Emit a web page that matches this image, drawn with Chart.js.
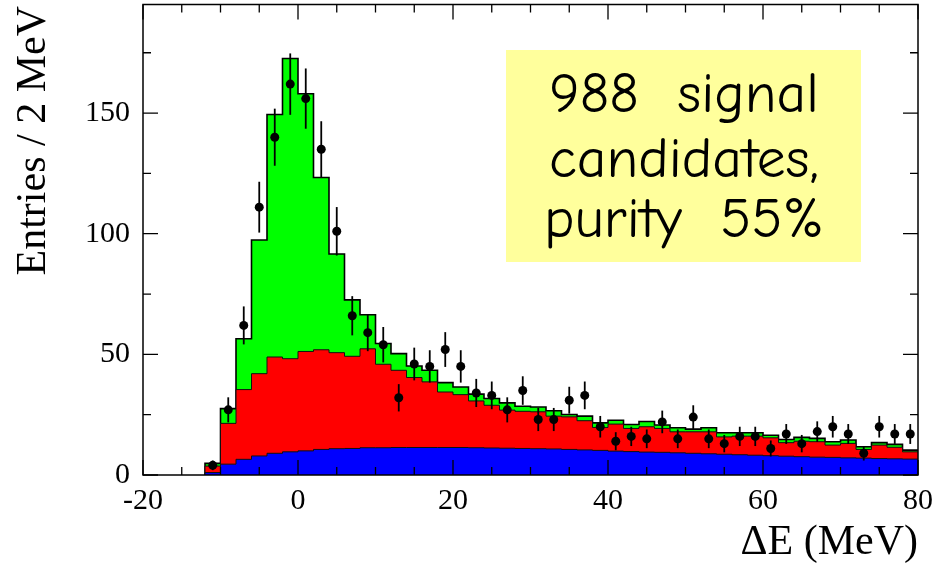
<!DOCTYPE html>
<html>
<head>
<meta charset="utf-8">
<script src="https://cdn.jsdelivr.net/npm/chart.js@4"></script>
<style>
  html, body { margin: 0; padding: 0; background: #fff; }
</style>
</head>
<body>
<canvas id="myChart" width="939" height="568"></canvas>
<script>
'use strict'

// lower edge of each 2 MeV bin
const binLow = [-12, -10, -8, -6, -4, -2, 0, 2, 4, 6, 8, 10, 12, 14, 16, 18, 20, 22, 24, 26, 28, 30, 32,
  34, 36, 38, 40, 42, 44, 46, 48, 50, 52, 54, 56, 58, 60, 62, 64, 66, 68, 70, 72, 74, 76, 78];
const binWidth = 2;

// observed entries (black points)
const dataCounts = [4, 27, 62, 111, 140, 162, 156, 135, 101, 66, 59, 54, 32, 46, 45, 52, 45, 34, 33, 27,
  35, 23, 23, 31, 33, 20, 14, 16, 15, 22, 15, 24, 15, 13, 16, 16, 11, 17, 13, 18, 20, 17, 9, 20, 17, 17];

// stacked MC, read as the top of each colour
const totalTop = [4.8, 27.5, 56.5, 97.4, 149.4, 172.6, 158, 123.3, 91.6, 72.6, 66.4, 54.5, 50.3, 45.2, 43.4,
  38.3, 36.5, 33.5, 31.7, 29.9, 28.5, 28.2, 26.6, 25.1, 24.4, 21.6, 22.7, 20.9, 22.2, 20.7, 19.6, 19.0, 19.6,
  17.5, 17.5, 17.5, 16.5, 14.7, 15.6, 15.2, 13.8, 14.5, 11.7, 13.4, 12.7, 10.3];
const bkgTop = [3.7, 21.4, 35.4, 42.0, 48.9, 48.2, 51.2, 51.9, 50.7, 49.2, 52.3, 45.9, 43.4, 40.4, 38.6,
  34.4, 33.3, 30.7, 28.9, 26.9, 26.4, 26.2, 24.4, 24.1, 22.5, 19.7, 21.1, 19.3, 20.0, 19.3, 17.9, 17.9, 17.9,
  15.8, 16.1, 16.1, 15.4, 13.4, 14.0, 13.8, 12.4, 13.1, 10.6, 12.4, 11.5, 9.6];
const combTop = [1.0, 4.5, 6.5, 7.9, 9.0, 9.6, 10.0, 10.6, 10.9, 11.0, 11.3, 11.3, 11.4, 11.4, 11.4,
  11.4, 11.4, 11.3, 11.2, 11.1, 11.0, 10.9, 10.8, 10.6, 10.4, 10.2, 9.9, 9.7, 9.5, 9.4, 9.2, 9.0, 8.8,
  8.6, 8.4, 8.2, 8.0, 7.8, 7.6, 7.4, 7.3, 7.1, 7.0, 6.8, 6.7, 6.6];

const boxLines = ['988  signal', 'candidates,', 'purity  55%'];

const serif = '"Liberation Serif", "Times New Roman", serif';

// histogram outline as stepped points on bin edges
function stepPoints(arr) {
  const pts = [{ x: binLow[0], y: 0 }];
  binLow.forEach((x, i) => pts.push({ x: x, y: arr[i] }));
  pts.push({ x: binLow[binLow.length - 1] + binWidth, y: arr[arr.length - 1] });
  return pts;
}

const histSet = (arr, fillColor, lineColor, lw) => ({
  data: stepPoints(arr),
  stepped: true,
  fill: 'origin',
  backgroundColor: fillColor,
  borderColor: lineColor,
  borderWidth: lw,
  pointRadius: 0,
});

// inward ticks, frame, error bars, axis titles and the text box
const decorPlugin = {
  id: 'decor',
  afterDatasetsDraw(chart) {
    const ctx = chart.ctx;
    const xs = chart.scales.x, ys = chart.scales.y;
    ctx.save();
    ctx.strokeStyle = '#000';
    ctx.lineWidth = 1.8;
    dataCounts.forEach((n, i) => {
      const px = xs.getPixelForValue(binLow[i] + binWidth / 2);
      const e = Math.sqrt(n);
      ctx.beginPath();
      ctx.moveTo(px, ys.getPixelForValue(n - e));
      ctx.lineTo(px, ys.getPixelForValue(n + e));
      ctx.stroke();
    });
    ctx.restore();
  },
  afterDraw(chart) {
    const ctx = chart.ctx;
    const a = chart.chartArea;
    const xs = chart.scales.x, ys = chart.scales.y;
    ctx.save();
    ctx.strokeStyle = '#000';
    ctx.lineWidth = 1.5;
    ctx.strokeRect(a.left, a.top, a.right - a.left, a.bottom - a.top);

    ctx.lineWidth = 1.3;
    ctx.beginPath();
    xs.ticks.forEach(t => {
      if (t.value % 5 !== 0) return;
      const px = xs.getPixelForValue(t.value);
      const len = t.value % 20 === 0 ? 15 : 8;
      ctx.moveTo(px, a.bottom); ctx.lineTo(px, a.bottom - len);
      ctx.moveTo(px, a.top); ctx.lineTo(px, a.top + len);
    });
    ys.ticks.forEach(t => {
      if (t.value % 25 !== 0) return;
      const py = ys.getPixelForValue(t.value);
      const len = t.value % 50 === 0 ? 15 : 8;
      ctx.moveTo(a.left, py); ctx.lineTo(a.left + len, py);
      ctx.moveTo(a.right, py); ctx.lineTo(a.right - len, py);
    });
    ctx.stroke();

    // axis titles
    ctx.fillStyle = '#000';
    ctx.font = '42px ' + serif;
    ctx.textAlign = 'right';
    ctx.textBaseline = 'alphabetic';
    ctx.fillText('\u0394E (MeV)', a.right, 554);
    ctx.translate(45, 6);
    ctx.rotate(-Math.PI / 2);
    ctx.fillText('Entries / 2 MeV', 0, 0);
    ctx.restore();

    // yellow text box
    ctx.save();
    ctx.fillStyle = '#ffff9c';
    ctx.fillRect(506, 50, 355, 212);
    const face = '"Comic Sans MS", "Comic Neue", "Noto Sans", sans-serif';
    ctx.font = '48px ' + face;
    const w = ctx.measureText(boxLines[1]).width;
    const size = 48 * 270 / w;
    ctx.font = size.toFixed(1) + 'px ' + face;
    ctx.fillStyle = '#000';
    ctx.textAlign = 'center';
    ctx.textBaseline = 'alphabetic';
    const baselines = [112, 177, 237];
    boxLines.forEach((s, i) => ctx.fillText(s, 684, baselines[i]));
    ctx.restore();
  },
};

const ctx = document.getElementById('myChart').getContext('2d');
const myChart = new Chart(ctx, {
  type: 'line',
  data: {
    datasets: [
      {
        data: binLow.map((x, i) => ({ x: x + binWidth / 2, y: dataCounts[i] })),
        showLine: false,
        pointRadius: 4.5,
        pointBackgroundColor: '#000',
        pointBorderWidth: 0,
      },
      histSet(combTop, '#0000ff', '#101010', 1),
      histSet(bkgTop, '#ff0000', '#101010', 1),
      histSet(totalTop, '#00ff00', '#000', 1.6),
    ],
  },
  options: {
    responsive: false,
    animation: false,
    devicePixelRatio: 1,
    layout: { padding: { top: 4, right: 21, left: 0, bottom: 0 } },
    plugins: { legend: { display: false }, tooltip: { enabled: false } },
    scales: {
      x: {
        type: 'linear',
        min: -20,
        max: 80,
        afterFit: s => { s.height = 93; s.paddingLeft = 0; s.paddingRight = 0; },
        grid: { display: false, drawTicks: false },
        border: { display: false },
        ticks: {
          stepSize: 5,
          autoSkip: false,
          maxRotation: 0,
          padding: 8,
          color: '#000',
          font: { family: serif, size: 30 },
          callback: v => (v % 20 === 0 ? v : ''),
        },
      },
      y: {
        min: 0,
        max: 195,
        afterFit: s => { s.width = 143; s.paddingTop = 0; s.paddingBottom = 0; },
        grid: { display: false, drawTicks: false },
        border: { display: false },
        ticks: {
          stepSize: 25,
          autoSkip: false,
          padding: 13,
          color: '#000',
          font: { family: serif, size: 30 },
          callback: v => (v % 50 === 0 ? v : ''),
        },
      },
    },
  },
  plugins: [decorPlugin],
});
</script>
</body>
</html>
